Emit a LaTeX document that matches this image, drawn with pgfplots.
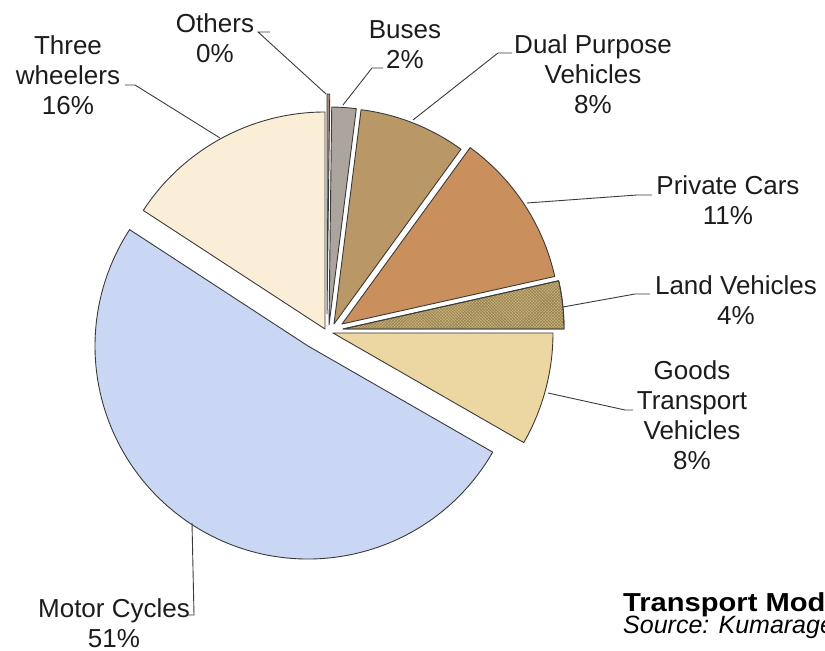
\documentclass[border=0pt]{standalone}
\usepackage{pgfplots}
\pgfplotsset{compat=1.18}
\usetikzlibrary{patterns}
\usepackage{graphicx}
\usepackage{fontspec}
\setmainfont{Liberation Sans}

\definecolor{edge}{HTML}{3A3A3A}
\definecolor{txt}{HTML}{1C1C1C}
\definecolor{cOthers}{HTML}{A88878}
\definecolor{cBuses}{HTML}{ABA59D}
\definecolor{cDual}{HTML}{BA9767}
\definecolor{cPrivate}{HTML}{C98F5C}
\definecolor{cLand}{HTML}{CDB377}
\definecolor{cGoods}{HTML}{ECD6A2}
\definecolor{cMotor}{HTML}{CAD7F4}
\definecolor{cThree}{HTML}{FBEED7}

\tikzset{
  lab/.style={font=\fontsize{26bp}{30bp}\selectfont, text=txt, align=center, inner sep=0pt},
  lead/.style={draw=edge, line width=0.9pt},
}

% one wedge, clockwise from 12 o'clock: #1 share before it (%), #2 share (%),
% #3,#4 apex (px from top-left), #5 radius, #6 fill options
\newcommand{\slice}[6]{%
  \filldraw[#6, draw=edge, line width=0.9pt, line join=round]
    (axis cs:#3,-#4) -- ++({90-3.6*(#1)}:#5bp)
    arc[start angle={90-3.6*(#1)}, end angle={90-3.6*(#1+#2)}, radius=#5bp] -- cycle;}

\begin{document}
\begin{tikzpicture}
\path[use as bounding box] (0,0) rectangle (825bp,651bp);
\clip (0,0) rectangle (825bp,651bp);
\begin{axis}[
  at={(0,0)}, anchor=south west,
  width=825bp, height=651bp, scale only axis,
  xmin=0, xmax=825, ymin=-651, ymax=0,
  hide axis, clip=false,
]
% shares: Others 0.2, Buses 1.8, Dual 8.0, Private 11.5, Land 3.5, Goods 8.3, Motor 50.9, Three 15.8
\slice{0}{0.2}{327}{314}{220}{fill=cOthers}
\slice{0.2}{1.8}{329}{325}{218}{fill=cBuses}
\slice{2.0}{8.0}{334}{324}{216}{fill=cDual}
\slice{10.0}{11.5}{342}{324}{218}{fill=cPrivate}
\slice{21.5}{3.5}{343}{329}{221}{fill=cLand}
\slice{21.5}{3.5}{343}{329}{221}{pattern=crosshatch, pattern color=cLand!70!black}
\slice{25.0}{8.3}{333}{333}{220}{fill=cGoods}
\slice{33.3}{50.9}{308}{346}{213}{fill=cMotor}
\slice{84.2}{15.8}{325}{329}{217}{fill=cThree}

% leader lines
\draw[lead] (axis cs:270,-32) -- (axis cs:258,-32) -- (axis cs:326,-94);
\draw[lead] (axis cs:125,-85) -- (axis cs:135,-85) -- (axis cs:220,-138);
\draw[lead] (axis cs:383,-68) -- (axis cs:372,-68) -- (axis cs:343,-105);
\draw[lead] (axis cs:512,-53) -- (axis cs:498,-53) -- (axis cs:413,-120);
\draw[lead] (axis cs:527,-203) -- (axis cs:637,-195) -- (axis cs:652,-195);
\draw[lead] (axis cs:563,-307) -- (axis cs:635,-294) -- (axis cs:650,-294);
\draw[lead] (axis cs:548,-393) -- (axis cs:625,-410) -- (axis cs:633,-410);
\draw[lead] (axis cs:192,-523) -- (axis cs:194,-615) -- (axis cs:188,-615);

% labels
\node[lab] at (axis cs:215,-38) {Others\\0\%};
\node[lab] at (axis cs:68,-75) {Three\\wheelers\\16\%};
\node[lab] at (axis cs:405,-45) {Buses\\2\%};
\node[lab] at (axis cs:593,-74) {Dual Purpose\\Vehicles\\8\%};
\node[lab] at (axis cs:728,-200) {Private Cars\\11\%};
\node[lab] at (axis cs:736,-300) {Land Vehicles\\4\%};
\node[lab] at (axis cs:692,-415) {Goods\\Transport\\Vehicles\\8\%};
\node[lab] at (axis cs:114,-623) {Motor Cycles\\51\%};

% caption, cut by the right edge
\node[anchor=base west, inner sep=0pt, text=black, font=\fontsize{26bp}{30bp}\selectfont\bfseries] at (axis cs:623,-612) {\scalebox{1.12}[1]{Transport Mode Share}};
\node[anchor=base west, inner sep=0pt, text=black, font=\fontsize{25bp}{30bp}\selectfont\itshape] at (axis cs:623,-633) {Source: Kumarage};
\end{axis}
\end{tikzpicture}
\end{document}
